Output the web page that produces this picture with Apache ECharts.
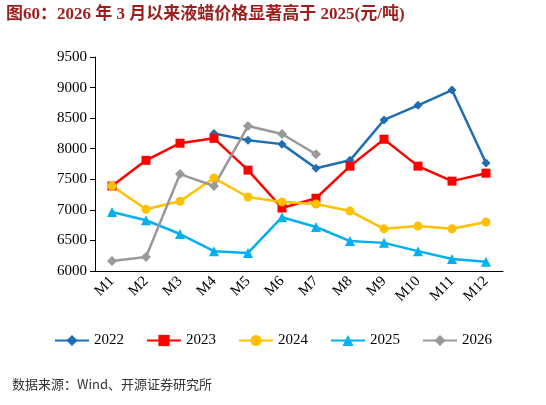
<!DOCTYPE html><html><head><meta charset="utf-8"><script src="https://cdn.jsdelivr.net/npm/echarts@6/dist/echarts.min.js"></script></head><body style="margin:0"><div id="c" style="width:546px;height:405px"></div><script>
const categories=['M1','M2','M3','M4','M5','M6','M7','M8','M9','M10','M11','M12'];
const s2022=[null,null,null,8250,8140,8075,7680,7810,8470,8710,8960,7765];
const s2023=[7390,7810,8090,8170,7650,7030,7190,7715,8155,7715,7470,7600];
const s2024=[7390,7010,7140,7520,7210,7130,7095,6980,6690,6735,6690,6800];
const s2025=[6965,6830,6605,6325,6295,6880,6720,6490,6460,6325,6195,6150];
const s2026=[6165,6230,7585,7390,8370,8240,7910,null,null,null,null,null];
const F='"Times New Roman","Liberation Serif",serif';
function S(n,d,c,sym,sz){return {name:n,type:'line',data:d,symbol:sym,symbolSize:sz,itemStyle:{color:c},lineStyle:{color:c,width:2.5},connectNulls:false};}
echarts.init(document.getElementById('c')).setOption({
animation:false,
graphic:[{type:'text',left:6,top:6,style:{text:'图60：2026 年 3 月以来液蜡价格显著高于 2025(元/吨)',font:'bold 17px '+F+',"Noto Sans CJK SC"',fill:'#9E1C1C'}},
{type:'text',left:12,top:378,style:{text:'数据来源：Wind、开源证券研究所',font:'13px "Noto Sans CJK SC"',fill:'#333'}}],
legend:{bottom:52,left:'center',itemWidth:34,itemGap:22,textStyle:{fontFamily:F,fontSize:15,color:'#000'},data:['2022','2023','2024','2025','2026']},
grid:{left:95,right:43,top:57,bottom:134},
xAxis:{type:'category',data:categories,boundaryGap:true,axisLine:{lineStyle:{color:'#000'}},axisTick:{show:false},axisLabel:{rotate:45,fontFamily:F,fontSize:15,color:'#000',interval:0}},
yAxis:{type:'value',min:6000,max:9500,interval:500,axisLine:{show:true,lineStyle:{color:'#000'}},axisTick:{show:true},splitLine:{show:false},axisLabel:{fontFamily:F,fontSize:15,color:'#000',formatter:v=>String(v)}},
series:[S('2022',s2022,'#1F6EB4','diamond',9),S('2023',s2023,'#FF0000','rect',9),S('2024',s2024,'#FFC000','circle',9),S('2025',s2025,'#00B0F0','triangle',10),S('2026',s2026,'#999999','diamond',10)]
});
</script></body></html>
